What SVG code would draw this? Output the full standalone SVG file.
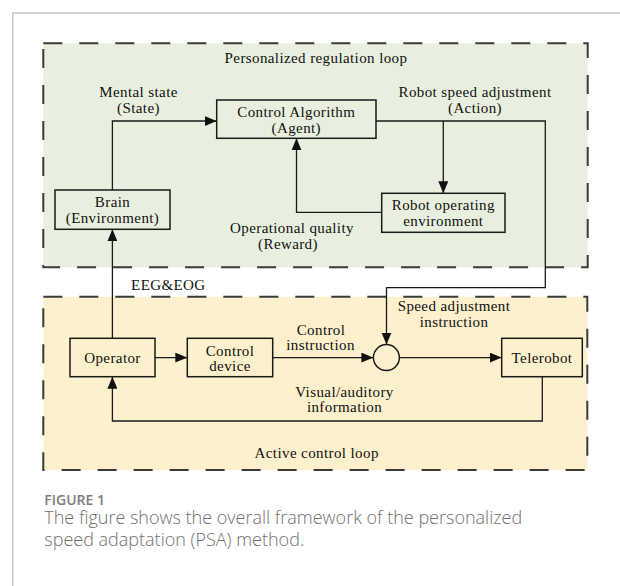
<svg xmlns="http://www.w3.org/2000/svg" width="620" height="586" viewBox="0 0 620 586">
  <style>
    .lbl { font-family: "Liberation Serif", "Times New Roman", serif; font-size: 15px; letter-spacing: 0.4px; fill: #111; text-anchor: middle; }
    .box { fill: none; stroke: #1a1a1a; stroke-width: 1.5; }
    .wire { fill: none; stroke: #1a1a1a; stroke-width: 1.3; }
    .zone { stroke: #3a3a3a; stroke-width: 2; stroke-dasharray: 19 17; }
    .card { stroke: #c6c6c6; stroke-width: 1.5; fill: none; }
    .cap-head { font-family: "Open Sans", "Noto Sans", sans-serif; font-size: 14px; font-weight: 600; fill: #7d7d7d; }
    .cap-body { font-family: "Open Sans", "Noto Sans", sans-serif; font-size: 18px; font-weight: 300; fill: #707070; }
  </style>
  <defs>
    <marker id="arrow" markerUnits="userSpaceOnUse" markerWidth="12" markerHeight="10" refX="12" refY="5" orient="auto">
      <path d="M0,0 L12,5 L0,10 Z" fill="#111"/>
    </marker>
  </defs>

  <rect width="620" height="586" fill="#ffffff"/>
  <!-- card frame -->
  <path class="card" d="M12.7,586 V13 H620"/>

  <!-- loop regions -->
  <g id="personalized-loop">
    <rect class="zone" x="43.3" y="43.3" width="544.4" height="224" fill="#e9efdf"/>
    <text class="lbl" x="316" y="63.3">Personalized regulation loop</text>
  </g>
  <g id="active-loop">
    <rect class="zone" x="43.3" y="296.7" width="544" height="173.3" fill="#fdf0cd"/>
    <text class="lbl" x="316.7" y="458.3">Active control loop</text>
  </g>

  <!-- connectors -->
  <g id="connectors">
    <path class="wire" d="M112.4,190 V121 H216.7" marker-end="url(#arrow)"/>
    <path class="wire" d="M376,121 H545.3 V287.7 H386.5 V344.5" marker-end="url(#arrow)"/>
    <path class="wire" d="M443.3,121 V193.3" marker-end="url(#arrow)"/>
    <path class="wire" d="M381.7,212.3 H296.5 V138.3" marker-end="url(#arrow)"/>
    <path class="wire" d="M112.4,338.3 V229.3" marker-end="url(#arrow)"/>
    <path class="wire" d="M155,357.6 H187.3" marker-end="url(#arrow)"/>
    <path class="wire" d="M272.7,357.6 H373.4" marker-end="url(#arrow)"/>
    <path class="wire" d="M399.4,357.6 H501.7" marker-end="url(#arrow)"/>
    <path class="wire" d="M542.3,376.7 V421 H112.4 V376.7" marker-end="url(#arrow)"/>

    <text class="lbl" x="138.5" y="97">Mental state</text>
    <text class="lbl" x="138.5" y="113">(State)</text>
    <text class="lbl" x="475" y="97.3">Robot speed adjustment</text>
    <text class="lbl" x="475" y="113">(Action)</text>
    <text class="lbl" x="292" y="233">Operational quality</text>
    <text class="lbl" x="288" y="248.5">(Reward)</text>
    <text class="lbl" x="168.3" y="290">EEG&amp;EOG</text>
    <text class="lbl" x="454" y="310.7">Speed adjustment</text>
    <text class="lbl" x="454" y="326.7">instruction</text>
    <text class="lbl" x="321" y="335">Control</text>
    <text class="lbl" x="320.5" y="350">instruction</text>
    <text class="lbl" x="344.5" y="396.7">Visual/auditory</text>
    <text class="lbl" x="344.5" y="411.7">information</text>
  </g>

  <!-- nodes -->
  <g id="control-algorithm">
    <rect class="box" x="216.7" y="100" width="159.3" height="38.3"/>
    <text class="lbl" x="296.3" y="117.2">Control Algorithm</text>
    <text class="lbl" x="296.3" y="133">(Agent)</text>
  </g>
  <g id="brain">
    <rect class="box" x="55" y="190" width="115" height="39.3"/>
    <text class="lbl" x="112.5" y="206.7">Brain</text>
    <text class="lbl" x="112.5" y="222.7">(Environment)</text>
  </g>
  <g id="robot-environment">
    <rect class="box" x="381.7" y="193.3" width="123.3" height="39"/>
    <text class="lbl" x="443.3" y="209.5">Robot operating</text>
    <text class="lbl" x="443.3" y="225.5">environment</text>
  </g>
  <g id="operator">
    <rect class="box" x="70" y="338.3" width="85" height="38.4"/>
    <text class="lbl" x="112.5" y="362.7">Operator</text>
  </g>
  <g id="control-device">
    <rect class="box" x="187.3" y="338.3" width="85.4" height="38.4"/>
    <text class="lbl" x="230" y="355.5">Control</text>
    <text class="lbl" x="230" y="371">device</text>
  </g>
  <g id="summing-junction">
    <circle cx="386.4" cy="357.6" r="13" fill="none" stroke="#1a1a1a" stroke-width="1.5"/>
  </g>
  <g id="telerobot">
    <rect class="box" x="501.7" y="338.3" width="80.6" height="38.4"/>
    <text class="lbl" x="542" y="362.7">Telerobot</text>
  </g>

  <!-- caption -->
  <g id="caption">
    <text class="cap-head" x="44.3" y="504.5">FIGURE 1</text>
    <text class="cap-body" x="44.3" y="524">The figure shows the overall framework of the personalized</text>
    <text class="cap-body" x="44.3" y="546">speed adaptation (PSA) method.</text>
  </g>
</svg>
